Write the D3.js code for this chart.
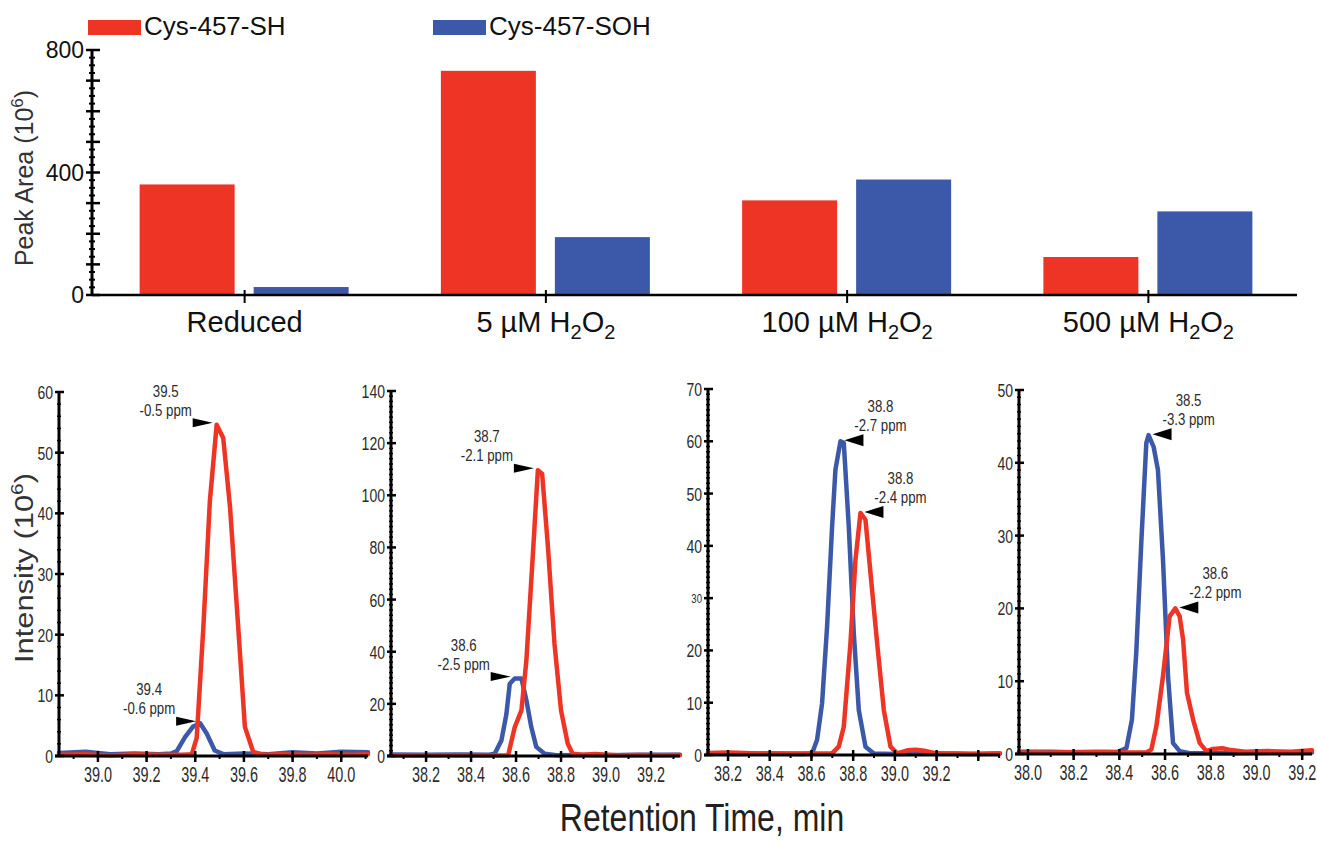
<!DOCTYPE html>
<html><head><meta charset="utf-8">
<script src="https://cdn.jsdelivr.net/npm/d3@7"></script>
<style>body{margin:0;background:#fff} svg{display:block}</style>
</head><body><svg id="c" width="1317" height="842"></svg>
<script>
// ---------------- DATA ----------------
const categories = ["Reduced", "5 µM H2O2", "100 µM H2O2", "500 µM H2O2"];
const seriesNames = ["Cys-457-SH", "Cys-457-SOH"];
const peakAreaSH  = [361, 732, 309, 124];
const peakAreaSOH = [26, 189, 377, 273];
const peakAreaTickLabels = [0, 400, 800];

// chromatograms: [retention time (min), intensity (10^6)]
const reducedSH = [[38.84,0.2],[38.95,0.3],[39.05,0.1],[39.15,0.3],[39.25,0.2],[39.35,0.2],[39.386,0.3],[39.406,3],[39.433,21],[39.46,42],[39.488,54.6],[39.515,52.4],[39.543,41],[39.577,21],[39.604,4.8],[39.638,0.7],[39.68,0.2],[39.75,0.3],[39.85,0.2],[39.95,0.3],[40.05,0.2],[40.11,0.3]];
const reducedSOH = [[38.84,0.5],[38.95,0.7],[39.05,0.3],[39.15,0.4],[39.25,0.3],[39.3,0.4],[39.324,0.8],[39.358,3.1],[39.39,4.8],[39.42,5.4],[39.447,3.7],[39.48,0.9],[39.515,0.3],[39.6,0.4],[39.7,0.3],[39.8,0.6],[39.9,0.4],[40.0,0.7],[40.11,0.6]];
const h2o2_5SH = [[38.044,0.3],[38.15,0.2],[38.3,0.3],[38.45,0.2],[38.565,0.3],[38.594,11],[38.624,17.5],[38.646,36.7],[38.675,77.6],[38.697,109.6],[38.716,108.3],[38.742,80],[38.771,43],[38.8,17.5],[38.83,4.7],[38.852,0.9],[38.897,0.5],[38.95,0.8],[39.05,0.3],[39.15,0.4],[39.25,0.3],[39.329,0.4]];
const h2o2_5SOH = [[38.044,0.6],[38.2,0.5],[38.35,0.6],[38.48,0.5],[38.505,0.9],[38.535,6],[38.557,16],[38.572,27.7],[38.594,29.7],[38.624,29.7],[38.646,21.4],[38.668,11],[38.69,3.5],[38.727,0.9],[38.78,0.3],[38.9,0.4],[39.0,0.3],[39.15,0.5],[39.329,0.5]];
const h2o2_100SH = [[38.104,0.4],[38.2,0.5],[38.35,0.3],[38.5,0.3],[38.65,0.3],[38.699,0.3],[38.731,1.6],[38.755,5.4],[38.787,21.4],[38.811,37.3],[38.835,46.3],[38.859,45],[38.883,34.8],[38.915,21.4],[38.947,8.6],[38.979,1.6],[39.011,0.3],[39.06,0.9],[39.1,1.0],[39.14,0.8],[39.2,0.3],[39.3,0.3],[39.4,0.2],[39.504,0.3]];
const h2o2_100SOH = [[38.104,0.3],[38.25,0.2],[38.4,0.3],[38.55,0.2],[38.603,0.3],[38.627,2.9],[38.651,9.9],[38.675,24.6],[38.699,43.7],[38.715,54.6],[38.739,60],[38.755,59.7],[38.779,43.7],[38.803,23.3],[38.827,8.6],[38.859,1.6],[38.899,0.3],[39.0,0.2],[39.2,0.3],[39.35,0.2],[39.504,0.3]];
const h2o2_500SH = [[37.961,0.2],[38.1,0.2],[38.3,0.3],[38.45,0.2],[38.518,0.2],[38.54,0.6],[38.562,3.8],[38.591,10.7],[38.62,18.9],[38.645,20],[38.664,18.9],[38.679,15.7],[38.696,8.4],[38.723,4.7],[38.752,1.5],[38.781,0.4],[38.81,0.7],[38.85,0.8],[38.88,0.6],[38.95,0.3],[39.05,0.4],[39.15,0.3],[39.243,0.5]];
const h2o2_500SOH = [[37.961,0.3],[38.1,0.3],[38.25,0.2],[38.394,0.3],[38.431,0.8],[38.455,4.7],[38.474,13.9],[38.496,29],[38.518,42.7],[38.528,43.8],[38.55,42.2],[38.569,39],[38.591,26.7],[38.613,10.7],[38.635,1.5],[38.664,0.4],[38.708,0.1],[38.9,0.1],[39.1,0.2],[39.243,0.2]];

const panelRtRange = [[38.84, 40.11], [38.044, 39.329], [38.104, 39.504], [37.961, 39.243]];
const panelYMax = [60, 140, 70, 50];
const panelYStep = [10, 20, 10, 10];
const panelXTicks = [
  [39.0, 39.2, 39.4, 39.6, 39.8, 40.0],
  [38.2, 38.4, 38.6, 38.8, 39.0, 39.2],
  [38.2, 38.4, 38.6, 38.8, 39.0, 39.2, 39.4],
  [38.0, 38.2, 38.4, 38.6, 38.8, 39.0, 39.2]
];
const panelXTickLabels = [
  ["39.0","39.2","39.4","39.6","39.8","40.0"],
  ["38.2","38.4","38.6","38.8","39.0","39.2"],
  ["38.2","38.4","38.6","38.8","39.0","39.2",""],
  ["38.0","38.2","38.4","38.6","38.8","39.0","39.2"]
];
// peak annotations: [rt label, mass error label]
const annotSH  = [["39.5","-0.5 ppm"], ["38.7","-2.1 ppm"], ["38.8","-2.4 ppm"], ["38.6","-2.2 ppm"]];
const annotSOH = [["39.4","-0.6 ppm"], ["38.6","-2.5 ppm"], ["38.8","-2.7 ppm"], ["38.5","-3.3 ppm"]];
const xAxisTitle = "Retention Time, min";

// ---------------- STYLE / LAYOUT ----------------
const RED = "#EE3425", BLUE = "#3C58A8";
const svg = d3.select("#c");
svg.append("rect").attr("width",1317).attr("height",842).attr("fill","#fff");

function hasFont(f){
  const c=document.createElement('canvas').getContext('2d');
  const s="abcdefghij0123456789ABCDEF";
  c.font="40px monospace"; const a=c.measureText(s).width;
  c.font=`40px '${f}', monospace`; return c.measureText(s).width!==a;
}
const NARROW_OK = hasFont("Liberation Sans Narrow");
const NFONT = NARROW_OK ? "'Liberation Sans Narrow', 'Arial Narrow', sans-serif" : "'Liberation Sans', Arial, sans-serif";
const NSCALE = NARROW_OK ? 1 : 0.82;
const SANS = "'Liberation Sans', Arial, sans-serif";
function ntext(parent, x, y, str, size, anchor, sx, fill){
  return parent.append("text")
    .attr("transform", `translate(${x},${y}) scale(${NSCALE*(sx||1)},1)`)
    .attr("font-family", NFONT).attr("font-size", size)
    .attr("text-anchor", anchor||"middle").attr("fill", fill||"#2b2b2b")
    .text(str);
}
// split a label into runs; digits directly after an element letter become subscripts
function chemLabel(textSel, str, subSize, shift){
  const runs = [];
  let prev = "";
  for (const ch of str) {
    const sub = /[0-9]/.test(ch) && /[A-Z]/.test(prev);
    if (runs.length && runs[runs.length-1].sub === sub) runs[runs.length-1].t += ch;
    else runs.push({t: ch, sub});
    prev = ch;
  }
  let down = false;
  runs.forEach(r => {
    const t = textSel.append("tspan").text(r.t);
    if (r.sub) { t.attr("font-size", subSize).attr("dy", shift); down = true; }
    else if (down) { t.attr("dy", -shift); down = false; }
  });
}

// ---------------- TOP BAR CHART ----------------
const topG = svg.append("g");
const yBar = d3.scaleLinear().domain([0, 800]).range([295, 50]);
const xBand = d3.scaleBand().domain(categories).range([92, 1297]);
const barW = 95;
categories.forEach((c,i) => {
  const cx = xBand(c) + xBand.bandwidth()/2 + 2;
  topG.append("rect").attr("x", cx - 105).attr("width", barW)
    .attr("y", yBar(peakAreaSH[i])).attr("height", yBar(0) - yBar(peakAreaSH[i])).attr("fill", RED);
  topG.append("rect").attr("x", cx + 9).attr("width", barW)
    .attr("y", yBar(peakAreaSOH[i])).attr("height", yBar(0) - yBar(peakAreaSOH[i])).attr("fill", BLUE);
  topG.append("line").attr("x1", cx).attr("x2", cx).attr("y1", yBar(0)-5).attr("y2", yBar(0)+8)
    .attr("stroke","#000").attr("stroke-width",2);
  const t = topG.append("text").attr("x", cx).attr("y", 332).attr("text-anchor","middle")
    .attr("font-family", SANS).attr("font-size", 29).attr("fill","#111");
  chemLabel(t, c, 20, 7);
});
topG.append("line").attr("x1", 92).attr("x2", 1297).attr("y1", yBar(0)).attr("y2", yBar(0))
  .attr("stroke","#000").attr("stroke-width",2.5);
topG.append("line").attr("x1", 92).attr("x2", 92).attr("y1", yBar(0)).attr("y2", yBar(800))
  .attr("stroke","#000").attr("stroke-width",3);
d3.range(0, 801, 25).forEach(v => {
  const major = v % 100 === 0;
  topG.append("line").attr("x1", major ? 86 : 89).attr("x2", major ? 100 : 95)
    .attr("y1", yBar(v)).attr("y2", yBar(v)).attr("stroke","#000").attr("stroke-width", major ? 2.5 : 2);
});
peakAreaTickLabels.forEach(v => {
  topG.append("text").attr("x", 84).attr("y", yBar(v)).attr("dy","0.36em").attr("text-anchor","end")
    .attr("font-family", SANS).attr("font-size", 23).attr("fill","#111").text(v);
});
const yt = topG.append("text").attr("transform","translate(33,178) rotate(-90)").attr("text-anchor","middle")
  .attr("font-family", SANS).attr("font-size", 25).attr("fill","#333");
yt.append("tspan").text("Peak Area (10");
yt.append("tspan").attr("font-size", 17).attr("dy", -10).text("6");
yt.append("tspan").attr("dy", 10).text(")");
[[88, 0], [433, 1]].forEach(([x, k]) => {
  topG.append("rect").attr("x", x).attr("y", 20).attr("width", 53).attr("height", 15).attr("fill", k ? BLUE : RED);
  topG.append("text").attr("x", x + 56).attr("y", 35)
    .attr("font-family", SANS).attr("font-size", 26).attr("fill","#111").text(seriesNames[k]);
});

// ---------------- CHROMATOGRAMS ----------------
const panelData = [[reducedSH, reducedSOH], [h2o2_5SH, h2o2_5SOH], [h2o2_100SH, h2o2_100SOH], [h2o2_500SH, h2o2_500SOH]];
const panelBox = [
  {x0: 59,   x1: 368,  yb: 756, yt: 392, minor: 2, side: "left"},
  {x0: 391,  x1: 680,  yb: 756, yt: 391, minor: 2, side: "left"},
  {x0: 708,  x1: 1000, yb: 755, yt: 389, minor: 1, side: "right"},
  {x0: 1019, x1: 1312, yb: 754, yt: 390, minor: 1, side: "right"}
];
panelData.forEach((pd, p) => {
  const b = panelBox[p];
  const g = svg.append("g");
  const x = d3.scaleLinear().domain(panelRtRange[p]).range([b.x0, b.x1]);
  const y = d3.scaleLinear().domain([0, panelYMax[p]]).range([b.yb, b.yt]);
  const line = d3.line().x(d => x(d[0])).y(d => y(d[1]));
  g.append("path").datum(pd[1]).attr("d", line).attr("fill","none").attr("stroke", BLUE)
    .attr("stroke-width", 4.5).attr("stroke-linejoin","round").attr("stroke-linecap","round");
  g.append("path").datum(pd[0]).attr("d", line).attr("fill","none").attr("stroke", RED)
    .attr("stroke-width", 4.5).attr("stroke-linejoin","round").attr("stroke-linecap","round");
  // x axis
  g.append("line").attr("x1", b.x0 - 4).attr("x2", b.x1).attr("y1", b.yb).attr("y2", b.yb)
    .attr("stroke","#000").attr("stroke-width", 3);
  const [r0, r1] = panelRtRange[p];
  d3.range(Math.ceil(r0*10), Math.floor(r1*10)+1).map(v => v/10).forEach(v => {
    g.append("line").attr("x1", x(v)).attr("x2", x(v)).attr("y1", b.yb).attr("y2", b.yb + 3)
      .attr("stroke","#000").attr("stroke-width", 2);
  });
  panelXTicks[p].forEach((v, i) => {
    g.append("line").attr("x1", x(v)).attr("x2", x(v)).attr("y1", b.yb - 5).attr("y2", b.yb + 6)
      .attr("stroke","#000").attr("stroke-width", 2.5);
    if (panelXTickLabels[p][i]) ntext(g, x(v), b.yb + 26, panelXTickLabels[p][i], 22, "middle", 0.8);
  });
  // y axis
  g.append("line").attr("x1", b.x0).attr("x2", b.x0).attr("y1", b.yb).attr("y2", b.yt)
    .attr("stroke","#000").attr("stroke-width", 3);
  d3.range(0, panelYMax[p] + 0.001, b.minor).forEach(v => {
    g.append("line").attr("x1", b.x0 - 2).attr("x2", b.x0 + 2).attr("y1", y(v)).attr("y2", y(v))
      .attr("stroke","#000").attr("stroke-width", 1.5);
  });
  d3.range(0, panelYMax[p] + 0.001, panelYStep[p]).forEach(v => {
    g.append("line").attr("x1", b.x0 - 4).attr("x2", b.x0 + 5).attr("y1", y(v)).attr("y2", y(v))
      .attr("stroke","#000").attr("stroke-width", 2.5);
    const small = (p === 2 && v === 30);
    ntext(g, b.x0 - 6, y(v) + (small ? 5 : 7), String(v), small ? 13 : 19, "end", 0.9);
  });
  // annotations
  [[pd[0], annotSH[p]], [pd[1], annotSOH[p]]].forEach(([series, lab]) => {
    const mi = d3.maxIndex(series, d => d[1]);
    const px = x(series[mi][0]), py = y(series[mi][1]);
    if (b.side === "left") {
      const tx = px - 4, ty = py - 2;
      g.append("path").attr("d", `M${tx},${ty} L${tx-20},${ty-4.5} L${tx-20},${ty+4.5} Z`).attr("fill","#000");
      ntext(g, tx - 47, ty - 26, lab[0], 17, "middle", 0.95);
      ntext(g, tx - 47, ty - 7, lab[1], 17, "middle", 0.95);
    } else {
      const tx = px + 4, ty = py - 1;
      g.append("path").attr("d", `M${tx},${ty} L${tx+19},${ty-6} L${tx+19},${ty+6} Z`).attr("fill","#000");
      ntext(g, tx + 36, ty - 28, lab[0], 17, "middle", 0.95);
      ntext(g, tx + 36, ty - 9, lab[1], 17, "middle", 0.95);
    }
  });
});

// bottom titles
const it = svg.append("text").attr("transform","translate(33,568) rotate(-90)").attr("text-anchor","middle")
  .attr("font-family", SANS).attr("font-size", 25).attr("fill","#333")
  .attr("textLength", 190).attr("lengthAdjust","spacingAndGlyphs");
it.append("tspan").text("Intensity  (10");
it.append("tspan").attr("font-size", 17).attr("dy", -10).text("6");
it.append("tspan").attr("dy", 10).text(")");
ntext(svg, 702, 831, xAxisTitle, 39, "middle", 1, "#231f20");
</script></body></html>
